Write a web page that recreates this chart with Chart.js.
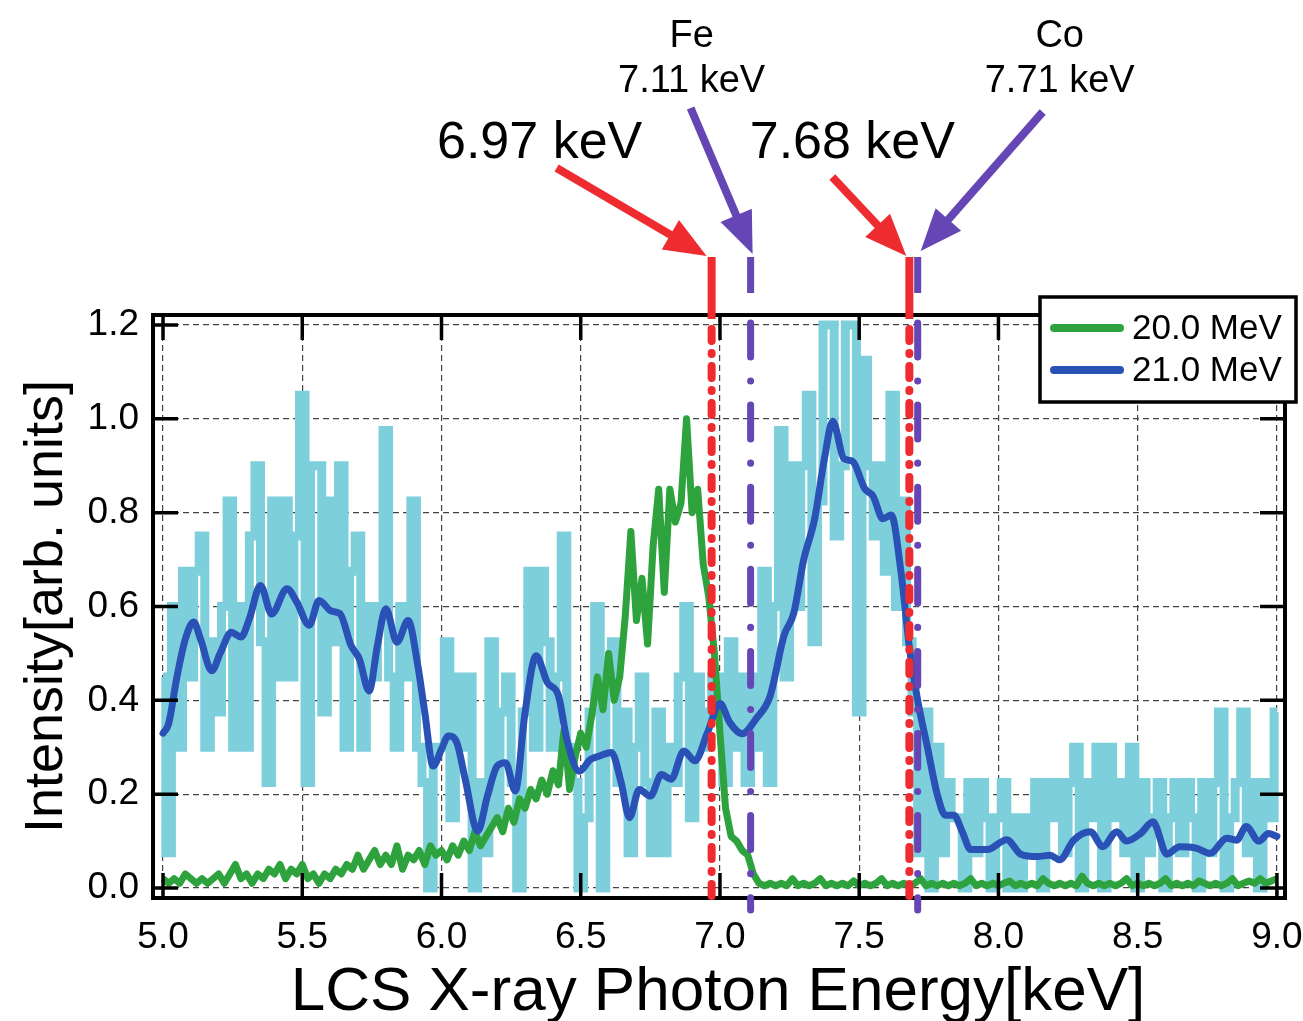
<!DOCTYPE html>
<html>
<head>
<meta charset="utf-8">
<script src="https://cdn.jsdelivr.net/npm/chart.js@4.4.1/dist/chart.umd.min.js"></script>
<style>
  html, body { margin: 0; padding: 0; background: #fff; }
  canvas { display: block; }
</style>
</head>
<body>
<canvas id="spectrum" width="1303" height="1021"></canvas>
<script>
// Channel grid of the raw spectra (keV)
const E_START = 5.0;
const E_STEP = 0.02;

// 21.0 MeV raw spectrum (light blue), one value per channel starting at 5.00 keV
const raw21 = [
  0.45, 0.075, 0.6, 0.3, 0.675, 0.45, 0.675, 0.75, 0.3, 0.525,
  0.375, 0.6, 0.825, 0.3, 0.6, 0.3, 0.75, 0.9, 0.525, 0.225,
  0.825, 0.45, 0.825, 0.45, 0.75, 1.05, 0.225, 0.9, 0.9, 0.375,
  0.825, 0.525, 0.9, 0.3, 0.675, 0.75, 0.3, 0.6, 0.45, 0.6,
  0.975, 0.45, 0.3, 0.6, 0.45, 0.825, 0.3, 0.225, 0.0, 0.3,
  0.3, 0.525, 0.15, 0.45, 0.3, 0.45, 0.0, 0.225, 0.075, 0.525,
  0.15, 0.375, 0.45, 0.225, 0.0, 0.375, 0.675, 0.3, 0.675, 0.525,
  0.3, 0.45, 0.75, 0.3, 0.225, 0.0, 0.15, 0.375, 0.6, 0.0,
  0.45, 0.525, 0.225, 0.375, 0.075, 0.3, 0.45, 0.225, 0.075, 0.375,
  0.075, 0.3, 0.225, 0.45, 0.6, 0.15, 0.45, 0.3, 0.375, 0.45,
  0.45, 0.225, 0.525, 0.3, 0.45, 0.225, 0.45, 0.3, 0.675, 0.225,
  0.6, 0.975, 0.45, 0.9, 0.6, 0.9, 1.05, 0.525, 0.825, 1.2,
  1.2, 0.75, 0.9, 1.2, 1.2, 0.375, 1.125, 0.9, 0.75, 0.9,
  0.675, 1.05, 0.6, 0.825, 0.525, 0.375, 0.075, 0.375, 0.0, 0.3,
  0.075, 0.225, 0.15, 0.15, 0.0, 0.225, 0.075, 0.225, 0.15, 0.0,
  0.15, 0.225, 0.0, 0.15, 0.0, 0.15, 0.075, 0.225, 0.0, 0.225,
  0.15, 0.225, 0.075, 0.225, 0.3, 0.0, 0.225, 0.15, 0.3, 0.0,
  0.3, 0.15, 0.225, 0.075, 0.3, 0.0, 0.225, 0.075, 0.15, 0.225,
  0.0, 0.15, 0.225, 0.075, 0.225, 0.15, 0.0, 0.225, 0.075, 0.225,
  0.375, 0.0, 0.15, 0.225, 0.375, 0.075, 0.225, 0.0, 0.225, 0.15,
  0.375
];

// 20.0 MeV spectrum (green), same channels
const raw20 = [
  0.02, 0.01, 0.02, 0.01, 0.03, 0.02, 0.01, 0.02, 0.01, 0.02,
  0.03, 0.01, 0.03, 0.05, 0.02, 0.03, 0.01, 0.03, 0.02, 0.04,
  0.03, 0.05, 0.02, 0.04, 0.03, 0.05, 0.02, 0.03, 0.01, 0.03,
  0.02, 0.04, 0.03, 0.05, 0.04, 0.07, 0.04, 0.06, 0.08, 0.05,
  0.07, 0.05, 0.09, 0.04, 0.07, 0.06, 0.08, 0.05, 0.09, 0.07,
  0.08, 0.06, 0.09, 0.07, 0.10, 0.08, 0.12, 0.09, 0.11, 0.13,
  0.15, 0.12, 0.17, 0.14, 0.19, 0.17, 0.21, 0.19, 0.23, 0.20,
  0.25, 0.22, 0.34, 0.21, 0.28, 0.33, 0.30, 0.37, 0.45, 0.38,
  0.50, 0.40, 0.45, 0.58, 0.76, 0.57, 0.66, 0.52, 0.73, 0.85,
  0.63, 0.85, 0.78, 0.82, 1.0, 0.80, 0.85, 0.69, 0.62, 0.50,
  0.33, 0.17, 0.11, 0.10, 0.08, 0.07, 0.03, 0.01, 0.005, 0.01,
  0.005, 0.01, 0.005, 0.02, 0.005, 0.01, 0.005, 0.01, 0.02, 0.005,
  0.01, 0.005, 0.01, 0.005, 0.015, 0.005, 0.01, 0.005, 0.01, 0.02,
  0.005, 0.01, 0.005, 0.01, 0.005, 0.01, 0.02, 0.005, 0.01, 0.005,
  0.01, 0.005, 0.01, 0.005, 0.01, 0.02, 0.005, 0.01, 0.005, 0.01,
  0.005, 0.01, 0.015, 0.005, 0.01, 0.005, 0.01, 0.005, 0.02, 0.01,
  0.005, 0.01, 0.005, 0.01, 0.005, 0.025, 0.01, 0.005, 0.01, 0.005,
  0.01, 0.005, 0.01, 0.02, 0.005, 0.01, 0.005, 0.01, 0.005, 0.01,
  0.02, 0.005, 0.01, 0.005, 0.01, 0.005, 0.015, 0.01, 0.005, 0.01,
  0.005, 0.01, 0.02, 0.005, 0.01, 0.015, 0.01, 0.02, 0.01, 0.015,
  0.02
];

// 21.0 MeV smoothed spectrum (dark blue)
const smoothE = [
  5.00, 5.02, 5.05, 5.08, 5.11, 5.135, 5.175, 5.205, 5.245, 5.28,
  5.31, 5.35, 5.39, 5.445, 5.48, 5.525, 5.56, 5.605, 5.635, 5.675,
  5.705, 5.74, 5.77, 5.80, 5.84, 5.88, 5.915, 5.94, 5.97, 6.00,
  6.025, 6.055, 6.085, 6.13, 6.165, 6.20, 6.23, 6.265, 6.30, 6.34,
  6.38, 6.42, 6.45, 6.495, 6.535, 6.57, 6.61, 6.645, 6.675, 6.71,
  6.75, 6.79, 6.825, 6.87, 6.91, 6.955, 7.00, 7.035, 7.08, 7.13,
  7.18, 7.23, 7.265, 7.30, 7.34, 7.375, 7.405, 7.445, 7.475, 7.52,
  7.55, 7.585, 7.615, 7.65, 7.68, 7.71, 7.745, 7.78, 7.81, 7.84,
  7.87, 7.90, 7.96, 8.03, 8.08, 8.14, 8.185, 8.22, 8.27, 8.33,
  8.375, 8.425, 8.46, 8.51, 8.555, 8.605, 8.65, 8.71, 8.76, 8.82,
  8.855, 8.89, 8.935, 8.97, 9.00
];
const smoothI = [
  0.33, 0.35, 0.45, 0.53, 0.567, 0.53, 0.463, 0.50, 0.545, 0.535,
  0.574, 0.645, 0.584, 0.638, 0.61, 0.56, 0.613, 0.59, 0.585, 0.517,
  0.488, 0.42, 0.517, 0.595, 0.524, 0.57, 0.474, 0.374, 0.26, 0.296,
  0.324, 0.31, 0.232, 0.121, 0.196, 0.26, 0.267, 0.207, 0.374, 0.495,
  0.438, 0.41, 0.317, 0.249, 0.274, 0.282, 0.289, 0.225, 0.15, 0.21,
  0.196, 0.242, 0.232, 0.292, 0.271, 0.331, 0.393, 0.353, 0.329, 0.361,
  0.409, 0.538, 0.586, 0.698, 0.787, 0.915, 0.995, 0.915, 0.91, 0.851,
  0.835, 0.787, 0.795, 0.674, 0.514, 0.40, 0.30, 0.20, 0.155, 0.155,
  0.12, 0.082, 0.082, 0.103, 0.072, 0.067, 0.07, 0.06, 0.102, 0.12,
  0.088, 0.12, 0.10, 0.116, 0.141, 0.072, 0.088, 0.085, 0.074, 0.106,
  0.102, 0.131, 0.10, 0.116, 0.11
];

const xTicks = [5.0, 5.5, 6.0, 6.5, 7.0, 7.5, 8.0, 8.5, 9.0];
const yTicks = [0.0, 0.2, 0.4, 0.6, 0.8, 1.0, 1.2];

// Measured edges (red) and reference K-edges (purple)
const edgeEnergy = [6.97, 7.11, 7.68, 7.71];
const edgeKind = ['measured', 'reference', 'measured', 'reference'];
const edgeElement = ['', 'Fe', '', 'Co'];

const FONT = "'Liberation Sans', Arial, Helvetica, sans-serif";
const RED = '#ee2b2f';
const PURPLE = '#6646b4';

function toPoints(values) {
  return values.map((v, i) => ({ x: +(E_START + i * E_STEP).toFixed(3), y: v }));
}

function arrow(ctx, x0, y0, x1, y1, color) {
  const ang = Math.atan2(y1 - y0, x1 - x0);
  const headLen = 42, headHalf = 17;
  const bx = x1 - headLen * Math.cos(ang), by = y1 - headLen * Math.sin(ang);
  ctx.strokeStyle = color;
  ctx.fillStyle = color;
  ctx.lineWidth = 8;
  ctx.lineCap = 'butt';
  ctx.setLineDash([]);
  ctx.beginPath();
  ctx.moveTo(x0, y0);
  ctx.lineTo(bx + 4 * Math.cos(ang), by + 4 * Math.sin(ang));
  ctx.stroke();
  ctx.beginPath();
  ctx.moveTo(x1, y1);
  ctx.lineTo(bx + headHalf * Math.sin(ang), by - headHalf * Math.cos(ang));
  ctx.lineTo(bx - headHalf * Math.sin(ang), by + headHalf * Math.cos(ang));
  ctx.closePath();
  ctx.fill();
}

const decorations = {
  id: 'decorations',
  afterDatasetsDraw(chart) {
    const { ctx, chartArea: a, scales: { x, y } } = chart;
    const legL = a.right - 245, legT = a.top - 18, legR = a.right + 11, legB = a.top + 87;
    ctx.save();

    // frame
    ctx.strokeStyle = '#000';
    ctx.lineWidth = 4;
    ctx.lineCap = 'square';
    ctx.beginPath();
    ctx.moveTo(legL, a.top);
    ctx.lineTo(a.left, a.top);
    ctx.lineTo(a.left, a.bottom);
    ctx.lineTo(a.right, a.bottom);
    ctx.lineTo(a.right, legB);
    ctx.stroke();

    // inward tick marks
    ctx.lineWidth = 3.5;
    ctx.lineCap = 'butt';
    ctx.beginPath();
    xTicks.forEach(v => {
      const px = x.getPixelForValue(v);
      ctx.moveTo(px, a.bottom); ctx.lineTo(px, a.bottom - 25);
      if (px < legL - 5) { ctx.moveTo(px, a.top); ctx.lineTo(px, a.top + 25); }
    });
    yTicks.forEach(v => {
      const py = y.getPixelForValue(v);
      ctx.moveTo(a.left, py); ctx.lineTo(a.left + 25, py);
      if (py > legB + 5) { ctx.moveTo(a.right, py); ctx.lineTo(a.right - 25, py); }
    });
    ctx.stroke();

    // edge markers
    const lineTop = a.top - 58;
    edgeEnergy.forEach((e, i) => {
      const px = x.getPixelForValue(e);
      const measured = edgeKind[i] === 'measured';
      ctx.strokeStyle = measured ? RED : PURPLE;
      ctx.lineWidth = measured ? 8 : 7;
      ctx.lineCap = 'butt';
      ctx.setLineDash([]);
      ctx.beginPath();
      ctx.moveTo(px, lineTop);
      ctx.lineTo(px, measured ? a.top + 4 : a.top - 22);
      ctx.stroke();
      ctx.lineCap = 'round';
      ctx.setLineDash(measured ? [12, 12, 1, 12] : [34, 24, 0.1, 24]);
      ctx.beginPath();
      ctx.moveTo(px, measured ? a.top + 14 : a.top + 8);
      ctx.lineTo(px, measured ? a.bottom + 8 : a.bottom + 12);
      ctx.stroke();
    });
    ctx.setLineDash([]);

    // arrows and labels
    const p = edgeEnergy.map(e => x.getPixelForValue(e));
    arrow(ctx, p[0] - 155, lineTop - 89, p[0] - 5, lineTop - 1, RED);
    arrow(ctx, p[1] - 60, lineTop - 149, p[1] + 2, lineTop - 3, PURPLE);
    arrow(ctx, p[2] - 77, lineTop - 80, p[2] - 3, lineTop - 1, RED);
    arrow(ctx, p[3] + 125, lineTop - 145, p[3] + 3, lineTop - 6, PURPLE);

    ctx.fillStyle = '#000';
    ctx.textAlign = 'center';
    ctx.textBaseline = 'alphabetic';
    ctx.font = '52px ' + FONT;
    ctx.fillText(edgeEnergy[0].toFixed(2) + ' keV', p[0] - 172, lineTop - 99);
    ctx.fillText(edgeEnergy[2].toFixed(2) + ' keV', p[2] - 57, lineTop - 99);
    ctx.font = '38px ' + FONT;
    ctx.fillText(edgeElement[1], p[1] - 59, lineTop - 210);
    ctx.fillText(edgeEnergy[1].toFixed(2) + ' keV', p[1] - 59, lineTop - 165);
    ctx.fillText(edgeElement[3], p[3] + 142, lineTop - 210);
    ctx.fillText(edgeEnergy[3].toFixed(2) + ' keV', p[3] + 142, lineTop - 165);

    // legend
    ctx.fillStyle = '#fff';
    ctx.fillRect(legL, legT, legR - legL, legB - legT);
    ctx.strokeStyle = '#000';
    ctx.lineWidth = 3.5;
    ctx.strokeRect(legL, legT, legR - legL, legB - legT);
    const entries = chart.data.datasets.filter(d => d.inLegend);
    entries.forEach((d, i) => {
      const ly = legT + 31 + i * 42;
      ctx.strokeStyle = d.borderColor;
      ctx.lineWidth = 8;
      ctx.lineCap = 'round';
      ctx.beginPath();
      ctx.moveTo(legL + 14, ly); ctx.lineTo(legL + 80, ly);
      ctx.stroke();
      ctx.fillStyle = '#000';
      ctx.font = '35px ' + FONT;
      ctx.textAlign = 'left';
      ctx.textBaseline = 'middle';
      ctx.fillText(d.label, legL + 92, ly + 1);
    });

    // axis titles
    ctx.fillStyle = '#000';
    ctx.textAlign = 'center';
    ctx.textBaseline = 'alphabetic';
    ctx.font = '62px ' + FONT;
    ctx.fillText('LCS X-ray Photon Energy[keV]', 718, 1010);
    ctx.save();
    ctx.translate(62, (a.top + a.bottom) / 2);
    ctx.rotate(-Math.PI / 2);
    ctx.font = '54px ' + FONT;
    ctx.fillText('Intensity[arb. units]', 0, 0);
    ctx.restore();

    ctx.restore();
  }
};

const tickFont = { family: FONT, size: 37 };

new Chart(document.getElementById('spectrum'), {
  type: 'line',
  data: {
    datasets: [
      {
        label: '21.0 MeV raw',
        data: toPoints(raw21),
        borderColor: '#7dcfdb',
        borderWidth: 9,
        borderJoinStyle: 'miter',
        stepped: 'middle',
        pointRadius: 0,
        order: 3,
        inLegend: false
      },
      {
        label: '20.0 MeV',
        data: toPoints(raw20),
        borderColor: '#2ea23c',
        borderWidth: 7,
        borderJoinStyle: 'round',
        pointRadius: 0,
        tension: 0,
        order: 2,
        inLegend: true
      },
      {
        label: '21.0 MeV',
        data: smoothE.map((e, i) => ({ x: e, y: smoothI[i] })),
        borderColor: '#2a52b6',
        borderWidth: 7,
        borderCapStyle: 'round',
        pointRadius: 0,
        cubicInterpolationMode: 'monotone',
        order: 1,
        inLegend: true
      }
    ]
  },
  options: {
    responsive: false,
    animation: false,
    devicePixelRatio: 1,
    layout: { padding: { top: 315, right: 18, left: 0, bottom: 0 } },
    plugins: { legend: { display: false }, tooltip: { enabled: false } },
    scales: {
      x: {
        type: 'linear',
        min: 4.964,
        max: 9.029,
        afterBuildTicks: s => { s.ticks = xTicks.map(v => ({ value: v })); },
        afterFit: s => { s.height = 123; s.paddingLeft = 0; s.paddingRight = 0; },
        ticks: { callback: v => v.toFixed(1), font: tickFont, color: '#000', padding: 18, maxRotation: 0, autoSkip: false },
        grid: { color: '#444', lineWidth: 1.2, drawTicks: false },
        border: { display: false, dash: [6, 4] }
      },
      y: {
        min: -0.0213,
        max: 1.2213,
        afterBuildTicks: s => { s.ticks = yTicks.map(v => ({ value: v })); },
        afterFit: s => { s.width = 153; s.paddingTop = 0; s.paddingBottom = 0; },
        ticks: { callback: v => v.toFixed(1), font: tickFont, color: '#000', padding: 14, autoSkip: false },
        grid: { color: '#444', lineWidth: 1.2, drawTicks: false },
        border: { display: false, dash: [6, 4] }
      }
    }
  },
  plugins: [decorations]
});
</script>
</body>
</html>
